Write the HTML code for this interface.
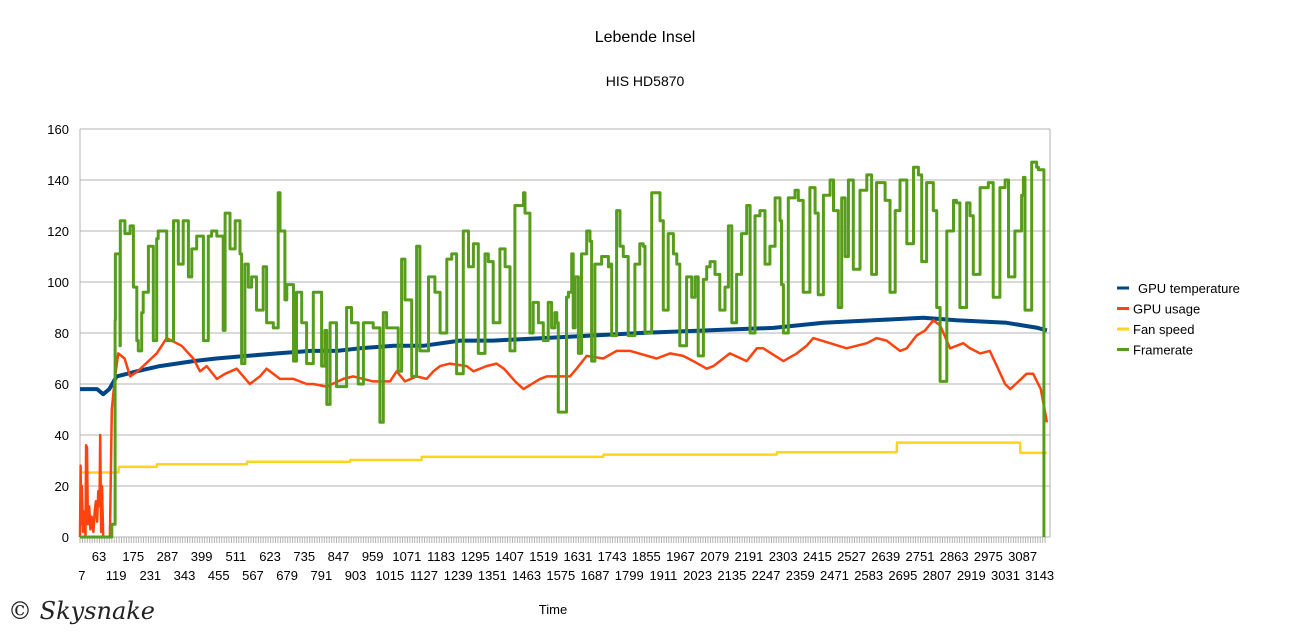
<!DOCTYPE html>
<html><head><meta charset="utf-8"><style>
body{margin:0;background:#fff;}
svg{display:block;font-family:"Liberation Sans",sans-serif;}
</style></head><body>
<svg id="chart" width="1290" height="639" viewBox="0 0 1290 639">
<text x="645" y="42" text-anchor="middle" font-size="16">Lebende Insel</text>
<text x="645" y="86" text-anchor="middle" font-size="14">HIS HD5870</text>
<text x="553" y="614" text-anchor="middle" font-size="13">Time</text>
<text x="8" y="619" font-size="24" font-style="italic" font-family="'DejaVu Serif',serif" fill="#222">© Skysnake</text>
<g id="grid"></g><g id="xticks"></g><g id="series"></g><g id="legend"></g>
</svg>
<script>
const yTicks=[0,20,40,60,80,100,120,140,160];
const xTickStart=7, xTickStep=56, xTickEnd=3143;
const seriesNames=["GPU temperature","GPU usage","Fan speed","Framerate"];
const seriesColors=["#004586","#ff420e","#ffd320","#579d1c"];
const tempT=[4,60,80,100,124,190,265,375,450,550,650,760,845,920,1030,1128,1248,1357,1520,1674,1837,2056,2274,2438,2602,2765,2874,3038,3140,3170];
const tempV=[58,58,56,58,63,65,67,69,70,71,72,73,73,74,75,75,77,77,78,79,80,81,82,84,85,86,85,84,82,81];
const usageT=[4,6,8,10,14,18,22,24,27,30,34,38,42,48,52,56,60,64,68,70,73,76,80,102,108,118,129,150,168,193,255,288,337,375,397,419,452,479,517,560,593,615,659,703,746,768,812,866,899,964,1019,1041,1068,1106,1139,1161,1183,1215,1270,1292,1335,1368,1392,1429,1456,
1510,1532,1565,1608,1630,1663,1717,1761,1805,1892,1936,1979,2012,2056,2078,2132,2187,2220,2241,2307,2351,2383,2405,2460,2514,2580,2612,2645,2689,2711,2743,2771,2798,2820,2853,2874,2896,2918,2951,2983,3006,3033,3050,3077,3103,3125,3150,3170];
const usageV=[0,28,5,20,2,10,0,36,35,5,12,3,8,2,10,14,6,18,12,40,2,20,0,0,50,62,72,70,63,65,72,78,75,70,65,67,62,64,66,60,63,66,62,62,60,60,59,62,63,61,61,65,61,63,62,65,67,68,67,65,67,68,66,61,58,
62,63,63,63,66,71,70,73,73,70,72,71,69,66,67,72,69,74,74,69,72,75,78,76,74,76,78,77,73,74,79,81,85,83,74,75,76,74,72,73,67,60,58,61,64,64,58,45,38];
const fanT=[4,130,131,255,256,550,551,888,889,1122,1123,1717,1718,2285,2286,2678,2679,3082,3083,3170];
const fanV=[25.3,25.3,27.5,27.5,28.5,28.5,29.5,29.5,30.2,30.2,31.4,31.4,32.3,32.3,33.2,33.2,37,37,33,33];
const fpsT=[4,102,108,119,120,135,136,151,168,179,190,195,206,211,228,244,255,260,288,310,326,342,359,370,386,408,424,435,452,473,479,495,512,528,533,544,555,566,582,604,615,637,653,659,675,681,703,713,730,746,768,795,806,812,823,844,877,893,915,932,964,986,997,1008,1046,1057,1068,1090,1106,1117,1145,1166,1183,1205,1221,1237,1259,1276,1292,1308,1330,1341,1357,1379,1396,1412,1428,1456,1461,1477,1488,1505,1521,1537,1548,1559,1565,1570,1597,1603,1614,1619,1625,1636,1646,1663,1674,1679,1690,1712,1734,1739,1745,1761,1772,1783,1799,1821,1837,1848,1854,1876,1887,1903,1914,1930,1947,1958,1968,1990,2007,2018,2028,2045,2056,2067,2083,2099,2116,2127,2138,2154,2170,2187,2198,2214,2230,2247,2263,2280,2296,2301,2307,2323,2345,2356,2372,2394,2411,2421,2438,2460,2471,2487,2498,2509,2520,2536,2558,2580,2596,2612,2629,2640,2656,2673,2689,2711,2733,2749,2760,2776,2798,2809,2820,2842,2864,2874,2885,2907,2918,2929,2951,2978,2994,3016,3033,3044,3065,3087,3093,3098,3120,3136,3142,3160];
const fpsV=[0,0,5,85,111,75,124,119,122,98,77,73,88,96,114,77,117,120,77,124,107,124,102,113,118,77,118,120,118,81,127,113,124,111,68,107,98,102,89,106,84,82,135,120,93,99,69,96,84,68,96,67,81,52,84,59,90,84,60,84,82,45,88,82,65,109,93,63,114,73,102,96,80,109,111,64,120,106,115,72,111,108,84,113,106,73,130,135,127,80,92,84,77,92,82,88,84,49,94,96,111,82,102,72,111,120,116,69,107,110,106,107,79,128,114,110,79,107,115,114,80,135,135,124,89,119,111,107,75,102,94,102,71,101,106,108,103,89,98,122,84,103,119,130,80,126,128,107,114,133,124,99,80,133,136,132,96,137,127,95,134,140,128,90,133,110,140,105,136,142,103,139,139,132,96,128,140,115,145,142,108,139,128,90,61,120,132,131,90,131,126,103,137,139,94,137,140,102,120,134,141,89,147,145,144,0,0];

const X0=80,X1=1050,Y0=537,Y1=129,TMIN=4,TMAX=3180,VMAX=160;
const sx=t=>X0+(t-TMIN)*(X1-X0)/(TMAX-TMIN);
const sy=v=>Y0-v*(Y0-Y1)/VMAX;
const NS="http://www.w3.org/2000/svg";
function mk(tag,attrs,parent){const e=document.createElementNS(NS,tag);for(const k in attrs)e.setAttribute(k,attrs[k]);parent.appendChild(e);return e;}
const grid=document.getElementById('grid');
yTicks.forEach(v=>{
  const l=mk('line',{x1:X0,x2:X1,y1:sy(v),y2:sy(v),stroke:'#b3b3b3','stroke-width':1},grid);
  
  
  const t=mk('text',{x:69,y:sy(v)+5,'text-anchor':'end','font-size':13},grid);
  t.textContent=v;
  
  
});
const ax=mk('line',{x1:X0,x2:X0,y1:Y1,y2:Y0,stroke:'#b3b3b3'},grid);


const rx=mk('line',{x1:X1,x2:X1,y1:Y1,y2:Y0,stroke:'#b3b3b3'},grid);


const xt=document.getElementById('xticks');
let d='';
for(let t=TMIN;t<=3170;t+=8){const x=sx(t).toFixed(1);d+=`M${x},${Y0}V${Y0+6}`;}
const tk=mk('path',{d:d,stroke:'#b3b3b3','stroke-width':1},xt);


for(let t=xTickStart,k=0;t<=xTickEnd;t+=xTickStep,k++){
  const e=mk('text',{x:sx(t)+1,y:k%2?561:580,'text-anchor':'middle','font-size':13},xt);
  e.textContent=t;
  
  
}
const ser=document.getElementById('series');
function line(T,V,color,w,name,step){
  let dd='';
  T.forEach((t,i)=>{
    const x=sx(t).toFixed(1),y=sy(V[i]).toFixed(1);
    if(i===0)dd+='M'+x+','+y;
    else if(step)dd+='H'+x+'V'+y;
    else dd+='L'+x+','+y;
  });
  const p=mk('path',{d:dd,fill:'none',stroke:color,'stroke-width':w,'stroke-linejoin':'round'},ser);
  
  
}
line(fanT,fanV,seriesColors[2],2.5,'fan-speed-line',false);
line(tempT,tempV,seriesColors[0],4,'gpu-temperature-line',false);
line(usageT,usageV,seriesColors[1],2.5,'gpu-usage-line',false);
line(fpsT,fpsV,seriesColors[3],3,'framerate-line',true);
const lg=document.getElementById('legend');
seriesNames.forEach((n,i)=>{
  const y=288+i*20.5;
  const g=mk('g',{},lg);
  
  
  mk('line',{x1:1117,x2:1129,y1:y,y2:y,stroke:seriesColors[i],'stroke-width':3},g);
  const t=mk('text',{x:i==0?1138:1133,y:y+5,'font-size':13},g);
  t.textContent=n;
});
</script>
</body></html>
